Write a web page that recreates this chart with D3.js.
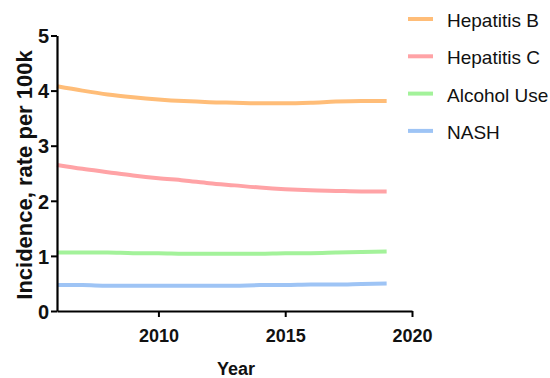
<!DOCTYPE html>
<html>
<head>
<meta charset="utf-8">
<script src="https://cdn.jsdelivr.net/npm/d3@7"></script>
<style>
  html, body { margin: 0; padding: 0; background: #fff; }
  svg { display: block; font-family: "Liberation Sans", Arial, sans-serif; }
</style>
</head>
<body>
<svg id="chart" width="550" height="378"></svg>
<script>
// Annual incidence (rate per 100k) by liver disease etiology
const years = [2006, 2007, 2008, 2009, 2010, 2011, 2012, 2013, 2014, 2015, 2016, 2017, 2018, 2019];
const hepatitisB = [4.08, 4.00, 3.93, 3.88, 3.84, 3.81, 3.79, 3.78, 3.77, 3.77, 3.78, 3.80, 3.81, 3.81];
const hepatitisC = [2.65, 2.58, 2.52, 2.46, 2.41, 2.37, 2.32, 2.28, 2.24, 2.21, 2.19, 2.18, 2.17, 2.17];
const alcoholUse = [1.06, 1.06, 1.06, 1.05, 1.05, 1.04, 1.04, 1.04, 1.04, 1.05, 1.05, 1.06, 1.07, 1.08];
const nash = [0.47, 0.47, 0.46, 0.46, 0.46, 0.46, 0.46, 0.46, 0.47, 0.47, 0.48, 0.48, 0.49, 0.50];

const seriesNames = ["Hepatitis B", "Hepatitis C", "Alcohol Use", "NASH"];
const seriesValues = [hepatitisB, hepatitisC, alcoholUse, nash];
const seriesColors = ["#ffbd78", "#ffa3a6", "#a3f29a", "#9ec4f5"];
const xTicks = [2010, 2015, 2020];
const yTicks = [0, 1, 2, 3, 4, 5];

const svg = d3.select("#chart");
const x = d3.scaleLinear().domain([2006, 2020]).range([57, 412]);
const y = d3.scaleLinear().domain([0, 5]).range([311, 35.5]);

// Series lines
const line = d3.line()
  .x((d, i) => x(years[i]))
  .y(d => y(d))
  .curve(d3.curveMonotoneX);

seriesValues.forEach((vals, k) => {
  svg.append("path")
    .attr("d", line(vals))
    .attr("fill", "none")
    .attr("stroke", seriesColors[k])
    .attr("stroke-width", 4)
    .attr("stroke-linecap", "butt");
});

// Axes
const xAxis = svg.append("g")
  .attr("transform", `translate(0,${y(0)})`)
  .call(d3.axisBottom(x).tickValues(xTicks).tickFormat(d3.format("d")).tickSize(6).tickSizeOuter(0));
const yAxis = svg.append("g")
  .attr("transform", `translate(${x(2006)},0)`)
  .call(d3.axisLeft(y).tickValues(yTicks).tickFormat(d3.format("d")).tickSize(6).tickSizeOuter(0));

[xAxis, yAxis].forEach(g => {
  g.attr("font-size", null).attr("font-family", null);
  g.select(".domain").attr("stroke", "#000").attr("stroke-width", 2.2);
  g.selectAll(".tick line").attr("stroke", "#000").attr("stroke-width", 2);
  g.selectAll(".tick text")
    .attr("fill", "#111")
    .style("font-family", "'Liberation Sans', Arial, sans-serif")
    .style("font-weight", "bold");
});
xAxis.selectAll(".tick text").style("font-size", "18px").attr("y", 31).attr("dy", 0);
yAxis.selectAll(".tick text").style("font-size", "20px").attr("x", -8).attr("dy", "0.36em");

// Axis titles
svg.append("text")
  .attr("x", 236).attr("y", 375)
  .attr("text-anchor", "middle")
  .attr("fill", "#111")
  .style("font-size", "18px").style("font-weight", "bold")
  .text("Year");

svg.append("text")
  .attr("transform", `translate(32,175) rotate(-90)`)
  .attr("text-anchor", "middle")
  .attr("fill", "#111")
  .style("font-size", "22px").style("font-weight", "bold")
  .text("Incidence, rate per 100k");

// Legend
const legend = svg.append("g");
seriesNames.forEach((name, k) => {
  const ly = 19 + k * 37.3;
  legend.append("line")
    .attr("x1", 408).attr("x2", 433)
    .attr("y1", ly).attr("y2", ly)
    .attr("stroke", seriesColors[k]).attr("stroke-width", 4);
  legend.append("text")
    .attr("x", 447).attr("y", ly + 8)
    .style("font-size", "19px")
    .attr("fill", "#111")
    .text(name);
});
</script>
</body>
</html>
